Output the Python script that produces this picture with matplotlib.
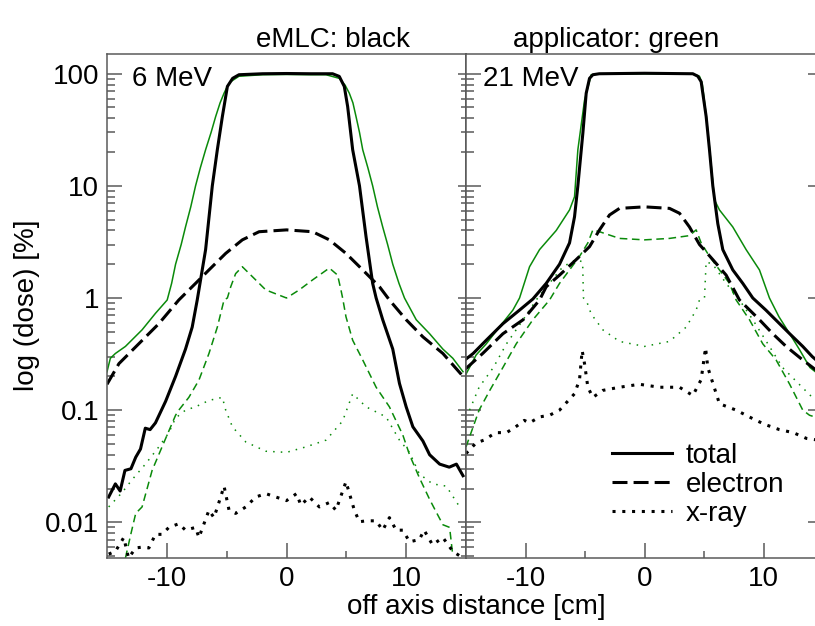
import numpy as np
import matplotlib
matplotlib.use('Agg')
import matplotlib.pyplot as plt
from matplotlib.ticker import FixedLocator, LogLocator, MultipleLocator, NullFormatter

plt.rcParams['font.family'] = ['Liberation Sans', 'DejaVu Sans']
plt.rcParams['font.size'] = 20
plt.rcParams['axes.unicode_minus'] = False

# ---- 6 MeV (left panel) ----
# eMLC (black)
x6_emlc_total = [-14.86, -14.3, -13.9, -13.5, -13.0, -12.6, -12.2, -11.8, -11.4, -10.95, -10.1, -9.27,
                 -8.44, -7.88, -7.46, -6.76, -6.2, -5.78, -5.36, -4.94, -4.5, -3.97, -2.0, 0.0, 2.0,
                 3.85, 4.41, 4.83, 5.11, 5.53, 6.1, 6.65, 7.2, 7.49, 8.04, 8.88, 9.44, 10.0, 10.56,
                 11.4, 11.96, 12.8, 13.6, 14.2, 14.75]
y6_emlc_total = [0.0168, 0.022, 0.019, 0.029, 0.030, 0.038, 0.045, 0.069, 0.067, 0.077, 0.12, 0.20,
                 0.35, 0.55, 0.96, 2.7, 10, 21, 41.5, 77, 91, 98, 100, 100.5, 100,
                 100, 94.7, 77, 51, 21, 10, 3.5, 1.35, 1.0, 0.64, 0.35, 0.173, 0.107, 0.071,
                 0.053, 0.040, 0.033, 0.031, 0.033, 0.026]

x6_emlc_elec = [-15.0, -14.0, -12.35, -10.67, -9.0, -7.6, -6.48, -5.08, -3.69, -2.29, 0.0,
                2.18, 3.58, 4.97, 6.37, 7.77, 8.6, 10.0, 11.4, 13.07, 14.75]
y6_emlc_elec = [0.17, 0.26, 0.39, 0.59, 0.96, 1.35, 1.78, 2.5, 3.3, 3.9, 4.05,
                3.9, 3.3, 2.5, 1.78, 1.26, 0.96, 0.64, 0.45, 0.32, 0.20]

x6_emlc_xray = [-14.86, -14.3, -13.6, -13.2, -12.6, -12.07, -11.5, -10.95, -10.4, -9.83, -9.0, -8.44,
                -7.6, -7.32, -6.48, -6.06, -5.5, -5.22, -4.8, -4.25, -3.4, -2.57, -1.73, -0.89, 0.0,
                0.84, 1.2, 1.9, 2.74, 3.58, 4.13, 4.97, 5.67, 6.09, 6.65, 7.49, 8.04, 8.6, 9.16,
                9.72, 10.28, 11.1, 11.5, 12.2, 13.07, 13.9, 14.75]
y6_emlc_xray = [0.0052, 0.0055, 0.0073, 0.0048, 0.0059, 0.0060, 0.0059, 0.0078, 0.0078, 0.0090, 0.0097,
                0.0085, 0.0090, 0.0073, 0.0128, 0.011, 0.0168, 0.021, 0.0128, 0.012, 0.0137, 0.0168,
                0.018, 0.0168, 0.0156, 0.018, 0.0142, 0.0168, 0.0137, 0.015, 0.0128, 0.023, 0.0128,
                0.0101, 0.0103, 0.0103, 0.0085, 0.011, 0.0085, 0.0085, 0.0067, 0.0070, 0.0085,
                0.0063, 0.0073, 0.0055, 0.0048]

# applicator (green)
x6_appl_total = [-15.0, -14.72, -14.3, -13.46, -12.07, -10.95, -9.97, -9.6, -9.27, -8.8, -8.44, -8.0,
                 -7.6, -7.2, -6.76, -6.3, -5.92, -5.55, -5.22, -4.9, -4.66, -3.97, -2.0, 0.0, 2.0,
                 3.3, 4.41, 4.9, 5.25, 5.55, 5.81, 6.1, 6.37, 6.8, 7.2, 7.6, 8.04, 8.45, 8.88, 9.4,
                 9.86, 10.84, 11.96, 13.07, 13.9, 14.75]
y6_appl_total = [0.22, 0.29, 0.32, 0.37, 0.52, 0.73, 0.96, 1.35, 2.0, 3.0, 4.3, 6.5,
                 10, 14.5, 21, 30, 41.5, 55, 67, 79, 85, 95, 98, 98.5, 98,
                 98, 91, 79, 67, 55, 41.5, 30, 21, 14.5, 10, 6.5, 4.3, 3.0, 2.0, 1.35,
                 1.0, 0.64, 0.48, 0.35, 0.29, 0.22]

x6_appl_elec = [-13.46, -13.0, -12.6, -12.07, -11.23, -10.4, -9.27, -9.0, -8.16, -7.32, -6.48, -5.78,
                -5.22, -4.94, -4.66, -4.25, -3.69, -2.85, -1.73, 0.0, 1.06, 2.18, 3.58, 4.27, 4.55,
                4.69, 4.97, 5.53, 6.37, 7.49, 8.6, 9.72, 10.28, 11.1, 11.96, 12.5, 13.07, 13.63, 13.9]
y6_appl_elec = [0.0048, 0.0079, 0.012, 0.0137, 0.029, 0.047, 0.09, 0.10, 0.13, 0.185, 0.32, 0.55,
                0.96, 1.0, 1.26, 1.65, 1.9, 1.55, 1.18, 1.0, 1.18, 1.45, 1.85, 1.6, 1.18,
                1.0, 0.68, 0.42, 0.28, 0.16, 0.107, 0.06, 0.040, 0.025, 0.016, 0.0124, 0.0095,
                0.009, 0.005]

x6_appl_xray = [-14.86, -13.74, -12.9, -11.79, -10.67, -9.83, -9.27, -8.44, -7.6, -6.48, -5.36, -5.08,
                -4.52, -3.4, -1.73, 0.0, 1.62, 3.3, 4.69, 5.53, 6.65, 8.32, 9.44, 10.28, 11.1, 12.2,
                13.35, 14.47]
y6_appl_xray = [0.0137, 0.0184, 0.024, 0.033, 0.047, 0.063, 0.085, 0.10, 0.107, 0.122, 0.13, 0.10,
                0.071, 0.052, 0.043, 0.042, 0.047, 0.054, 0.08, 0.14, 0.107, 0.087, 0.054, 0.042,
                0.027, 0.022, 0.021, 0.0137]

# ---- 21 MeV (right panel) ----
x21_emlc_total = [-15.1, -14.4, -13.3, -11.9, -10.5, -9.38, -8.26, -7.14, -6.3, -5.88, -5.6, -5.18,
                  -4.9, -4.62, -4.34, -3.8, 0.0, 4.06, 4.48, 4.76, 5.18, 5.46, 5.74, 6.16, 6.58, 7.42,
                  8.26, 9.1, 10.2, 12.2, 13.3, 14.1, 14.6]
y21_emlc_total = [0.28, 0.32, 0.42, 0.59, 0.78, 0.98, 1.35, 2.0, 3.1, 5.3, 10, 29.5,
                  67, 91, 98, 100, 101, 100, 95, 85, 41.6, 21, 10, 4.6, 2.7, 1.78,
                  1.35, 1.0, 0.78, 0.48, 0.37, 0.30, 0.27]

x21_emlc_elec = [-15.1, -13.6, -11.9, -10.2, -8.82, -8.26, -7.14, -5.74, -4.62, -3.78, -2.94, -2.1,
                 0.0, 2.1, 2.94, 3.78, 4.62, 5.74, 6.86, 7.98, 9.66, 10.78, 11.9, 13.3, 14.6]
y21_emlc_elec = [0.23, 0.32, 0.48, 0.64, 0.96, 1.26, 1.6, 2.2, 2.87, 4.05, 5.5, 6.3,
                 6.5, 6.3, 5.7, 4.3, 3.0, 2.2, 1.6, 0.96, 0.64, 0.48, 0.37, 0.28, 0.22]

x21_emlc_xray = [-15.0, -14.15, -13.5, -12.5, -11.6, -10.9, -10.1, -9.66, -8.82, -7.98, -7.14, -5.88,
                 -5.46, -5.24, -5.04, -4.76, -4.34, -3.5, -2.1, -0.42, 1.26, 2.94, 4.06, 4.76, 5.13,
                 5.32, 6.3, 7.7, 8.54, 9.38, 10.2, 11.34, 12.5, 13.6, 14.6]
y21_emlc_xray = [0.041, 0.051, 0.054, 0.063, 0.063, 0.070, 0.081, 0.077, 0.087, 0.090, 0.10, 0.14,
                 0.187, 0.34, 0.26, 0.16, 0.13, 0.15, 0.16, 0.17, 0.16, 0.16, 0.135, 0.187, 0.36,
                 0.24, 0.114, 0.10, 0.090, 0.081, 0.074, 0.067, 0.063, 0.056, 0.054]

x21_appl_total = [-15.1, -14.15, -13.3, -12.2, -11.06, -10.5, -9.66, -8.82, -7.42, -6.3, -5.88, -5.6,
                  -5.04, -4.48, -3.8, 0.0, 4.06, 4.62, 4.85, 5.2, 5.5, 5.88, 6.3, 7.42, 8.54, 9.66,
                  10.5, 11.3, 12.2, 13.0, 13.9, 14.6]
y21_appl_total = [0.20, 0.31, 0.39, 0.55, 0.78, 1.0, 1.9, 2.7, 4.0, 6.1, 8.0, 21,
                  58, 98, 99.5, 100, 99.5, 95, 82, 41, 20, 7.5, 6.1, 4.3, 2.7, 1.78,
                  1.0, 0.68, 0.48, 0.35, 0.24, 0.21]

x21_appl_elec = [-15.0, -13.9, -13.0, -11.9, -10.78, -9.38, -7.98, -7.14, -6.3, -5.46, -4.76, -4.34,
                 -3.78, -2.1, 0.0, 2.1, 3.78, 4.34, 4.76, 5.46, 6.3, 7.14, 7.7, 8.82, 9.94, 11.06,
                 12.2, 13.3, 13.87, 14.6]
y21_appl_elec = [0.047, 0.10, 0.15, 0.24, 0.39, 0.64, 0.96, 1.35, 1.78, 2.35, 3.1, 4.05,
                 3.9, 3.4, 3.3, 3.4, 3.6, 4.05, 3.1, 2.35, 1.78, 1.35, 0.96, 0.64, 0.39, 0.28,
                 0.17, 0.10, 0.09, 0.085]

x21_appl_xray = [-14.7, -13.9, -12.7, -11.6, -10.2, -9.1, -8.0, -6.86, -5.74, -5.2, -5.13, -4.9,
                 -4.48, -3.5, -2.1, 0.0, 2.1, 3.5, 4.34, 4.62, 5.04, 5.18, 5.74, 6.86, 7.98, 9.1,
                 10.5, 11.6, 13.0, 14.1]
y21_appl_xray = [0.10, 0.16, 0.24, 0.39, 0.64, 0.96, 1.35, 1.9, 2.2, 2.1, 1.0, 0.96,
                 0.72, 0.52, 0.41, 0.37, 0.41, 0.55, 0.78, 0.96, 1.0, 2.1, 2.0, 1.35, 0.96, 0.64,
                 0.37, 0.24, 0.17, 0.13]

ytick_vals = [0.01, 0.1, 1, 10, 100]
ytick_labels = ['0.01', '0.1', '1', '10', '100']

GREEN = '#0a8a0a'
FRAME = '#5a5a5a'

W, H = 815, 626
fig = plt.figure(figsize=(W / 100, H / 100), dpi=100)
ax1 = fig.add_axes([107 / W, 68 / H, 359 / W, 504 / H])
ax2 = fig.add_axes([466 / W, 68 / H, 357 / W, 504 / H])


def draw_panel(ax, curves):
    for x, y, color, lw, ls in curves:
        ax.plot(x, y, color=color, lw=lw, linestyle=ls, solid_joinstyle='round')
    ax.set_yscale('log')
    ax.set_xlim(-15, 15)
    ax.set_ylim(0.0048, 150)
    ax.xaxis.set_major_locator(MultipleLocator(10))
    ax.xaxis.set_minor_locator(FixedLocator([-5, 5]))
    ax.yaxis.set_major_locator(FixedLocator(ytick_vals))
    ax.yaxis.set_minor_locator(LogLocator(subs=np.arange(2, 10)))
    ax.yaxis.set_minor_formatter(NullFormatter())
    ax.tick_params(which='both', direction='in', color=FRAME, width=1.1)
    ax.tick_params(which='major', length=10.8, pad=6)
    ax.tick_params(which='minor', length=5.4)
    for s in ax.spines.values():
        s.set_color(FRAME)
        s.set_linewidth(1.1)


dash_k = (0, (4.9, 2.0))
dot_k = (0, (1, 2.2))
dash_g = (0, (5, 3))
dot_g = (0, (1, 4))

draw_panel(ax1, [
    (x6_appl_total, y6_appl_total, GREEN, 1.1, '-'),
    (x6_appl_elec, y6_appl_elec, GREEN, 1.1, dash_g),
    (x6_appl_xray, y6_appl_xray, GREEN, 1.1, dot_g),
    (x6_emlc_total, y6_emlc_total, 'black', 2.2, '-'),
    (x6_emlc_elec, y6_emlc_elec, 'black', 2.2, dash_k),
    (x6_emlc_xray, y6_emlc_xray, 'black', 2.2, dot_k),
])
draw_panel(ax2, [
    (x21_appl_total, y21_appl_total, GREEN, 1.1, '-'),
    (x21_appl_elec, y21_appl_elec, GREEN, 1.1, dash_g),
    (x21_appl_xray, y21_appl_xray, GREEN, 1.1, dot_g),
    (x21_emlc_total, y21_emlc_total, 'black', 2.2, '-'),
    (x21_emlc_elec, y21_emlc_elec, 'black', 2.2, dash_k),
    (x21_emlc_xray, y21_emlc_xray, 'black', 2.2, dot_k),
])

ax1.set_yticklabels(ytick_labels)
ax1.tick_params(axis='y', pad=5.5)
ax2.tick_params(axis='y', which='both', right=True, labelleft=False)

# short ticks on the inner side of the left panel
sec = ax1.secondary_yaxis('right')
sec.yaxis.set_major_locator(FixedLocator(ytick_vals))
sec.yaxis.set_minor_locator(LogLocator(subs=np.arange(2, 10)))
sec.yaxis.set_major_formatter(NullFormatter())
sec.yaxis.set_minor_formatter(NullFormatter())
sec.tick_params(which='both', direction='in', color=FRAME, width=1.1)
sec.tick_params(which='major', length=6)
sec.tick_params(which='minor', length=3.6)
sec.spines['right'].set_color(FRAME)
sec.spines['right'].set_linewidth(1.1)

ax1.text(0.069, 0.9365, '6 MeV', transform=ax1.transAxes, va='baseline')
ax2.text(0.047, 0.9365, '21 MeV', transform=ax2.transAxes, va='baseline')

fig.text(333 / W, 1 - 47 / H, 'eMLC: black', ha='center', va='baseline')
fig.text(616 / W, 1 - 47 / H, 'applicator: green', ha='center', va='baseline')
fig.text(476 / W, 1 - 607 / H, 'off axis distance [cm]', ha='center', va='center')
fig.text(27 / W, 1 - 305 / H, 'log (dose) [%]', rotation=90, ha='center', va='center')

# legend: line styles only, in black
hl = [plt.Line2D([], [], color='black', lw=2.2, linestyle=s) for s in ['-', dash_k, dot_k]]
ax2.legend(hl, ['total', 'electron', 'x-ray'], frameon=False,
           loc='upper left', bbox_to_anchor=(612 / W, 1 - 443 / H), bbox_transform=fig.transFigure,
           borderaxespad=0, borderpad=0, handlelength=2.16, handletextpad=0.5,
           labelspacing=0.1, fontsize=20)

plt.savefig('out.png', dpi=100)
